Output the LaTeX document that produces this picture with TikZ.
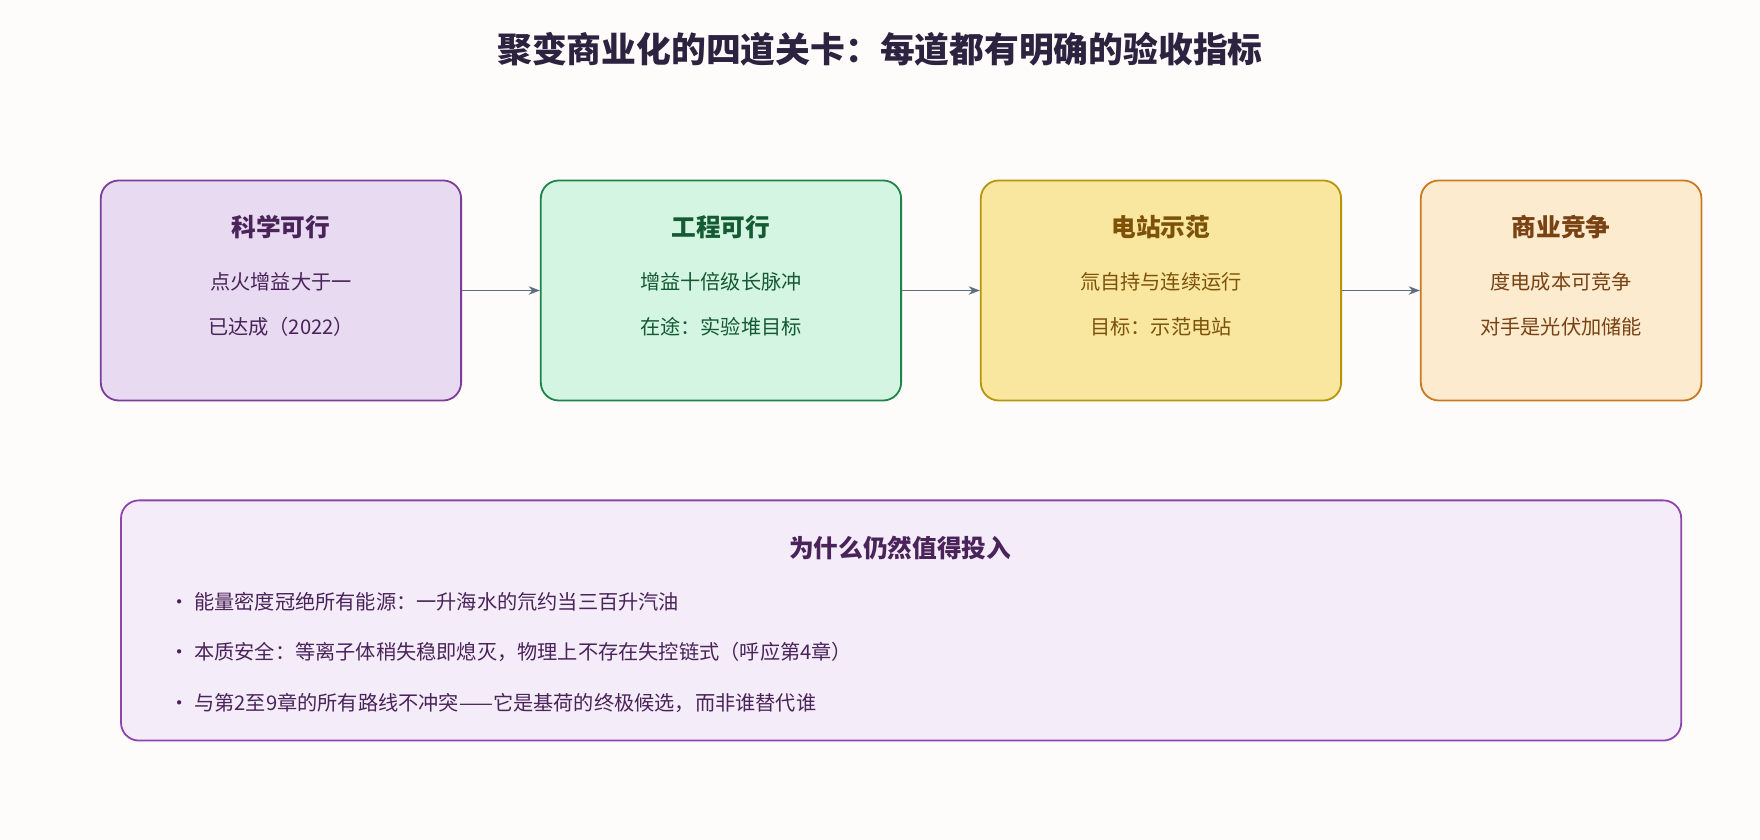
\documentclass[tikz,border=0pt]{standalone}
\usepackage{fontspec}
\setmainfont{Noto Sans CJK SC}
\usetikzlibrary{arrows.meta}
\definecolor{bg}{HTML}{FDFCFB}
\definecolor{s1}{HTML}{7D3C98}\definecolor{f1}{HTML}{E8DAF0}\definecolor{t1}{HTML}{4A235A}
\definecolor{s2}{HTML}{1E8449}\definecolor{f2}{HTML}{D5F5E3}\definecolor{t2}{HTML}{145A32}
\definecolor{s3}{HTML}{B7950B}\definecolor{f3}{HTML}{F9E79F}\definecolor{t3}{HTML}{7E5109}
\definecolor{s4}{HTML}{CA7A1E}\definecolor{f4}{HTML}{FDEBD0}\definecolor{t4}{HTML}{784212}
\definecolor{s5}{HTML}{8E44AD}\definecolor{f5}{HTML}{F4ECF8}
\definecolor{ttl}{HTML}{2C2340}\definecolor{ar}{HTML}{5D6D7E}
\begin{document}
\begin{tikzpicture}[x=0.5pt,y=-0.5pt,
 box/.style={draw,line width=0.8pt,rounded corners=8pt,anchor=north west,inner sep=0},
 hd/.style={font=\bfseries\fontsize{11}{13}\selectfont},
 bd/.style={font=\fontsize{9}{11}\selectfont},
 arr/.style={draw=ar,line width=0.7pt,-{Stealth[length=5pt]}}]
\fill[bg] (0,0) rectangle (1568,748);
\useasboundingbox (0,0) rectangle (1568,748);
\node[font=\bfseries\fontsize{15.5}{18}\selectfont,text=ttl] (t) at (784,44) {聚变商业化的四道关卡：每道都有明确的验收指标};
\def\stage#1#2#3#4#5#6#7#8#9{
 \node[box,draw=#3,fill=#4,minimum width=#2*0.5pt,minimum height=98pt] (#9) at (#1,160) {};
 \node[hd,text=#5] at ([yshift=-21pt]#9.north) {#6};
 \node[bd,text=#5] at ([yshift=-45.5pt]#9.north) {#7};
 \node[bd,text=#5] at ([yshift=-65.5pt]#9.north) {#8};}
\stage{89}{321}{s1}{f1}{t1}{科学可行}{点火增益大于一}{已达成（2022）}{a}
\stage{481}{321}{s2}{f2}{t2}{工程可行}{增益十倍级长脉冲}{在途：实验堆目标}{b}
\stage{873}{321}{s3}{f3}{t3}{电站示范}{氚自持与连续运行}{目标：示范电站}{c}
\stage{1265}{250}{s4}{f4}{t4}{商业竞争}{度电成本可竞争}{对手是光伏加储能}{d}
\draw[arr] (a.east) -- (b.west);
\draw[arr] (b.east) -- (c.west);
\draw[arr] (c.east) -- (d.west);
\node[box,draw=s5,fill=f5,minimum width=695pt,minimum height=107pt] (e) at (107,445) {};
\node[hd,text=t1] at (802,488) {为什么仍然值得投入};
\begin{scope}[every node/.style={bd,anchor=west,text=t1}]
\node (l1) at (144,536) {· 能量密度冠绝所有能源：一升海水的氘约当三百升汽油};
\node (l2) at (144,581) {· 本质安全：等离子体稍失稳即熄灭，物理上不存在失控链式（呼应第4章）};
\node (l3) at (144,626) {· 与第2至9章的所有路线不冲突——它是基荷的终极候选，而非谁替代谁};
\end{scope}
\end{tikzpicture}
\end{document}
